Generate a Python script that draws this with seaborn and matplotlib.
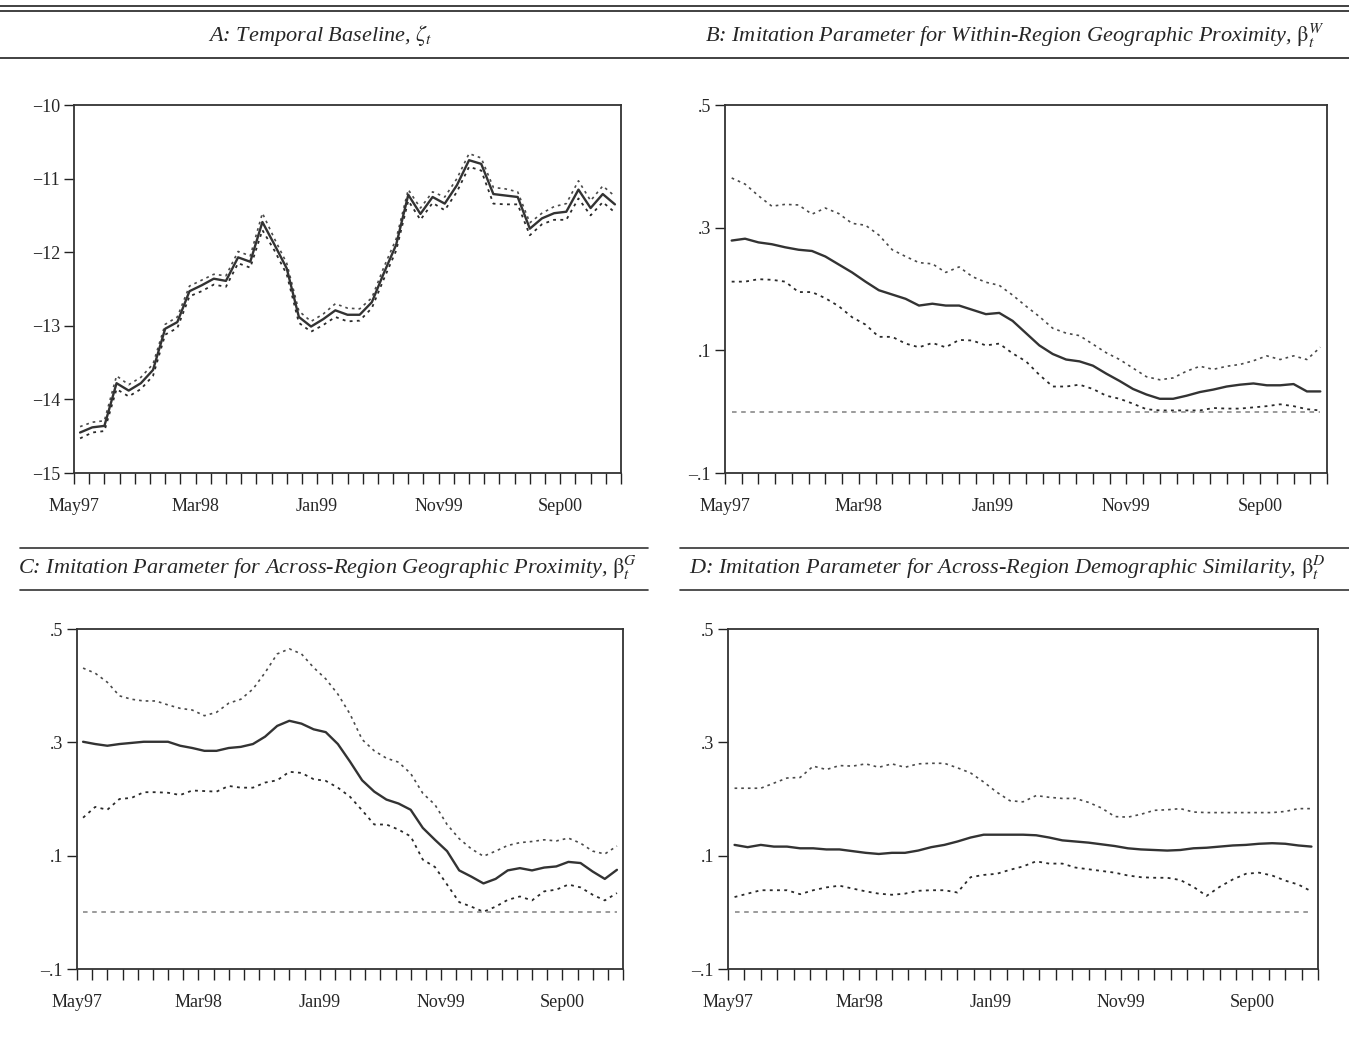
import numpy as np
import pandas as pd
import matplotlib
matplotlib.use("Agg")
import matplotlib.pyplot as plt
import seaborn as sns
from matplotlib.lines import Line2D

# ---------------- data ----------------
month_index = list(range(45))  # monthly observations, May97 ... Jan01
tick_labels = ["May97", "Mar98", "Jan99", "Nov99", "Sep00"]
tick_label_pos = [-0.5, 9.5, 19.5, 29.5, 39.5]

A_mid = [-14.45, -14.38, -14.36, -13.78, -13.88, -13.78, -13.60, -13.04, -12.95, -12.53,
         -12.45, -12.36, -12.39, -12.07, -12.13, -11.59, -11.90, -12.22, -12.88, -13.01,
         -12.91, -12.79, -12.85, -12.85, -12.68, -12.28, -11.90, -11.22, -11.48, -11.25,
         -11.34, -11.09, -10.75, -10.80, -11.21, -11.23, -11.25, -11.68, -11.54, -11.47,
         -11.45, -11.15, -11.40, -11.21, -11.35]
A_up = [-14.37, -14.31, -14.29, -13.68, -13.80, -13.70, -13.52, -12.98, -12.88, -12.46,
        -12.38, -12.30, -12.32, -11.99, -12.05, -11.47, -11.82, -12.15, -12.80, -12.94,
        -12.84, -12.70, -12.76, -12.77, -12.62, -12.20, -11.82, -11.15, -11.40, -11.18,
        -11.25, -11.00, -10.66, -10.72, -11.12, -11.14, -11.18, -11.60, -11.47, -11.38,
        -11.34, -11.03, -11.30, -11.10, -11.24]
A_lo = [-14.53, -14.45, -14.43, -13.86, -13.96, -13.86, -13.68, -13.12, -13.03, -12.60,
        -12.53, -12.44, -12.47, -12.15, -12.21, -11.70, -11.98, -12.30, -12.96, -13.08,
        -12.99, -12.88, -12.94, -12.93, -12.76, -12.36, -11.98, -11.30, -11.56, -11.33,
        -11.43, -11.18, -10.84, -10.89, -11.34, -11.35, -11.35, -11.77, -11.62, -11.56,
        -11.56, -11.27, -11.50, -11.32, -11.46]

B_mid = [.279, .282, .276, .273, .268, .264, .262, .253, .240, .227, .212, .198, .191, .184,
         .173, .176, .173, .173, .166, .159, .161, .148, .128, .108, .094, .085, .082, .075,
         .062, .050, .037, .028, .021, .021, .026, .032, .036, .041, .044, .046, .043, .043,
         .045, .033, .033]
B_up = [.381, .371, .352, .335, .338, .337, .322, .332, .323, .307, .304, .288, .264, .253,
        .243, .241, .227, .236, .220, .211, .206, .190, .172, .155, .136, .128, .124, .110,
        .096, .085, .071, .057, .052, .055, .066, .074, .069, .074, .077, .083, .091, .085,
        .091, .085, .105]
B_lo = [.212, .212, .216, .215, .212, .195, .195, .185, .172, .154, .142, .122, .122, .111,
        .105, .112, .105, .117, .116, .108, .111, .095, .082, .060, .041, .041, .044, .037,
        .026, .021, .013, .004, .002, .002, .002, .002, .006, .005, .005, .007, .009, .012,
        .009, .004, .002]

C_mid = [.301, .297, .294, .297, .299, .301, .301, .301, .294, .290, .285, .285, .290, .292,
         .297, .310, .329, .338, .333, .323, .318, .297, .266, .233, .213, .199, .192, .181,
         .149, .128, .108, .074, .063, .051, .059, .074, .078, .074, .079, .081, .089, .087,
         .072, .059, .075]
C_up = [.431, .422, .406, .382, .376, .373, .373, .366, .360, .357, .347, .353, .369, .376,
        .394, .423, .456, .465, .456, .432, .412, .385, .350, .305, .285, .272, .265, .245,
        .210, .190, .155, .130, .112, .099, .108, .118, .123, .125, .128, .126, .131, .122,
        .108, .103, .117]
C_lo = [.167, .186, .181, .200, .202, .212, .212, .211, .207, .215, .214, .213, .223, .220,
        .220, .229, .233, .248, .246, .235, .232, .220, .204, .180, .155, .155, .146, .134,
        .093, .080, .049, .018, .010, .001, .010, .022, .028, .021, .037, .040, .049, .044,
        .031, .021, .034]

D_mid = [.119, .115, .119, .116, .116, .113, .113, .111, .111, .108, .105, .103, .105, .105,
         .109, .115, .119, .125, .132, .137, .137, .137, .137, .136, .132, .127, .125, .123,
         .120, .117, .113, .111, .110, .109, .110, .113, .114, .116, .118, .119, .121, .122,
         .121, .118, .116]
D_up = [.219, .219, .219, .228, .237, .238, .258, .252, .259, .258, .262, .256, .262, .256,
        .262, .263, .263, .255, .246, .230, .212, .197, .195, .206, .203, .201, .201, .194,
        .184, .169, .168, .173, .180, .181, .183, .177, .176, .176, .176, .176, .176, .176,
        .178, .183, .183]
D_lo = [.027, .033, .039, .039, .039, .032, .039, .044, .047, .042, .037, .033, .031, .033,
        .038, .039, .039, .035, .062, .066, .068, .075, .081, .090, .086, .086, .079, .076,
        .073, .070, .065, .062, .061, .061, .057, .045, .029, .045, .058, .068, .070, .065,
        .056, .049, .037]

A_yticks = [-15, -14, -13, -12, -11, -10]
A_ylabels = ["\u221215", "\u221214", "\u221213", "\u221212", "\u221211", "\u221210"]
beta_yticks = [-0.1, 0.1, 0.3, 0.5]
beta_ylabels = ["\u2013.1", ".1", ".3", ".5"]

titles = [
    r"A: Temporal Baseline, $\zeta_t$",
    r"B: Imitation Parameter for Within-Region Geographic Proximity, $\mathrm{\beta}_t^W$",
    r"C: Imitation Parameter for Across-Region Geographic Proximity, $\mathrm{\beta}_t^G$",
    r"D: Imitation Parameter for Across-Region Demographic Similarity, $\mathrm{\beta}_t^D$",
]

# ---------------- style ----------------
sns.set_theme(style="white")
plt.rcParams["font.family"] = ["Liberation Serif", "DejaVu Serif"]
plt.rcParams["mathtext.fontset"] = "stix"

W, H = 1349, 1042
fig = plt.figure(figsize=(W / 100, H / 100), dpi=100)
fig.patch.set_facecolor("white")


def px_rect(x0, y0, x1, y1):
    return [x0 / W, 1 - y1 / H, (x1 - x0) / W, (y1 - y0) / H]


def hline(y, x0, x1, lw=1.2, color="#333333"):
    fig.add_artist(Line2D([x0 / W, x1 / W], [1 - y / H, 1 - y / H],
                          transform=fig.transFigure, color=color, lw=lw))


def panel(rect, mid, up, lo, ylim, yticks, ylabels, zero=False):
    ax = fig.add_axes(rect)
    df = pd.DataFrame({"month": month_index, "mid": mid, "up": up, "lo": lo})
    dot = (0, (1.6, 2.4))
    sns.lineplot(data=df, x="month", y="up", ax=ax, color="#4a4a4a", lw=1.2,
                 linestyle=dot)
    sns.lineplot(data=df, x="month", y="lo", ax=ax, color="#2a2a2a", lw=1.3,
                 linestyle=dot)
    sns.lineplot(data=df, x="month", y="mid", ax=ax, color="#333333", lw=1.7)
    if zero:
        ax.hlines(0, month_index[0], month_index[-1], colors="#808080", lw=1.1,
                  linestyles=(0, (3, 3)))
    ax.set_xlim(-0.5, 44.5)
    ax.set_ylim(*ylim)
    xt = np.arange(-0.5, 44.51, 1.25)
    ax.set_xticks(xt)
    labs = []
    for t in xt:
        lab = ""
        for p, l in zip(tick_label_pos, tick_labels):
            if abs(t - p) < 1e-6:
                lab = l
        labs.append(lab)
    ax.set_xticklabels(labs)
    ax.set_yticks(yticks)
    ax.set_yticklabels(ylabels)
    ax.set_xlabel("")
    ax.set_ylabel("")
    ax.tick_params(axis="x", direction="out", length=8, width=1.0, color="#222222",
                   labelsize=13, pad=10, bottom=True)
    ax.tick_params(axis="y", direction="out", length=7, width=1.0, color="#222222",
                   labelsize=13, pad=3, left=True)
    for s in ax.spines.values():
        s.set_visible(True)
        s.set_color("#333333")
        s.set_linewidth(1.3)
    ax.grid(False)
    return ax


panel(px_rect(74, 105, 621, 473), A_mid, A_up, A_lo, (-15, -10), A_yticks, A_ylabels)
panel(px_rect(725, 105, 1327, 473), B_mid, B_up, B_lo, (-0.1, 0.5), beta_yticks,
      beta_ylabels, zero=True)
panel(px_rect(77, 629, 623, 969), C_mid, C_up, C_lo, (-0.1, 0.5), beta_yticks,
      beta_ylabels, zero=True)
panel(px_rect(728, 629, 1318, 969), D_mid, D_up, D_lo, (-0.1, 0.5), beta_yticks,
      beta_ylabels, zero=True)

# rules and titles
hline(6, 0, W, lw=1.3)
hline(11, 0, W, lw=1.3)
hline(58, 0, W, lw=1.3)
hline(548, 20, 648, lw=1.2)
hline(548, 680, W, lw=1.2)
hline(590, 20, 648, lw=1.2)
hline(590, 680, W, lw=1.2)

title_pos = [(320, 36), (1015, 36), (328, 568), (1007, 568)]
for (tx, ty), t in zip(title_pos, titles):
    fig.text(tx / W, 1 - ty / H, t, ha="center", va="center", fontsize=16,
             style="italic")

fig.savefig("out.png", dpi=100, facecolor="white")
